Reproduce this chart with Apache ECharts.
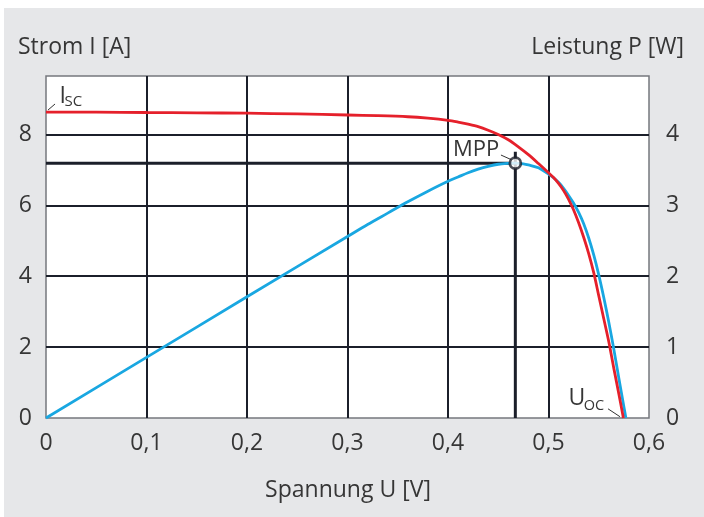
<!DOCTYPE html>
<html>
<head>
<meta charset="utf-8">
<script src="https://cdn.jsdelivr.net/npm/echarts@6/dist/echarts.min.js"></script>
<style>
  html, body { margin: 0; padding: 0; background: #ffffff; }
  #panel { position: absolute; left: 4px; top: 8px; width: 700px; height: 509px; background: #e6e7e9; }
  #chart { position: absolute; left: 0; top: 0; width: 704px; height: 517px; }
</style>
</head>
<body>
<div id="panel"></div>
<div id="chart"></div>
<script>
// I-U characteristic of the solar cell: voltage [V] and current [A]
const voltageI = [0, 0.05, 0.1, 0.15, 0.2, 0.25, 0.3, 0.33, 0.36, 0.38, 0.4, 0.41, 0.42, 0.43, 0.44, 0.45, 0.46, 0.47, 0.48, 0.49, 0.5,
                  0.505, 0.51, 0.515, 0.52, 0.525, 0.53, 0.535, 0.54, 0.545, 0.55, 0.555, 0.56, 0.565, 0.57, 0.5745];
const current  = [8.63, 8.63, 8.62, 8.61, 8.60, 8.58, 8.55, 8.53, 8.50, 8.46, 8.40, 8.35, 8.29, 8.22, 8.12, 8.00, 7.85, 7.65, 7.43, 7.18, 6.92,
                  6.785, 6.62, 6.42, 6.17, 5.87, 5.51, 5.10, 4.64, 4.10, 3.45, 2.80, 2.15, 1.40, 0.68, 0];

// P-U characteristic: voltage [V] and power [W]
const voltageP = [0, 0.1, 0.2, 0.3, 0.32, 0.34, 0.36, 0.38, 0.4, 0.41, 0.42, 0.43, 0.44, 0.45, 0.46, 0.467, 0.475, 0.48, 0.49, 0.5,
                  0.505, 0.51, 0.515, 0.52, 0.525, 0.53, 0.535, 0.54, 0.545, 0.55, 0.555, 0.56, 0.565, 0.57, 0.575, 0.577];
const power    = [0, 0.855, 1.71, 2.56, 2.73, 2.89, 3.05, 3.20, 3.34, 3.40, 3.46, 3.51, 3.55, 3.58, 3.592, 3.595, 3.585, 3.57, 3.53, 3.44,
                  3.39, 3.325, 3.24, 3.14, 3.03, 2.90, 2.74, 2.54, 2.30, 2.02, 1.70, 1.35, 0.97, 0.56, 0.16, 0];

// Maximum power point
const mppVoltage = 0.467;
const mppPower = 3.595;
const mppMarkTop = 3.755;

// Tick labels
const voltageTicks = ['0', '0,1', '0,2', '0,3', '0,4', '0,5', '0,6'];
const currentTicks = ['0', '2', '4', '6', '8'];
const powerTicks   = ['0', '1', '2', '3', '4'];

const FONT = '"Open Sans", "Noto Sans", sans-serif';
const TEXT = '#363636';
const GRID = '#1b1f2a';
const RED = '#e5202b';
const BLUE = '#19a7e1';

const currentMax = 9.65;
const powerMax = currentMax / 2;

const zip = (xs, ys) => xs.map((x, i) => [x, ys[i]]);

// Annotation anchors in (voltage, current) units
const notes = {
  iscArrow: [[0.0090, 8.86], [0.0020, 8.69]],
  mppArrow: [[0.4527, 7.42], [0.4637, 7.28]],
  uocArrow: [[0.5592, 0.26], [0.5711, 0.037]],
  iscMain: [0.0134, 9.06],
  iscSub:  [0.0185, 8.93],
  mppText: [0.405, 7.56],
  uocMain: [0.5200, 0.545],
  uocSub:  [0.5350, 0.333]
};

const chart = echarts.init(document.getElementById('chart'), null, { renderer: 'canvas' });

const arrowLine = (pair) => [{ coord: pair[0] }, { coord: pair[1] }];

chart.setOption({
  animation: false,
  backgroundColor: 'transparent',
  grid: {
    left: 46, right: 55, top: 76, bottom: 99,
    show: true, backgroundColor: '#ffffff',
    borderColor: '#75787e', borderWidth: 1.5
  },
  xAxis: {
    type: 'value', min: 0, max: 0.6, interval: 0.1,
    axisLine: { show: false }, axisTick: { show: false },
    axisLabel: {
      margin: 14, color: TEXT, fontFamily: FONT, fontSize: 23,
      formatter: v => voltageTicks[Math.round(v / 0.1)]
    },
    splitLine: { show: true, showMinLine: false, showMaxLine: false, lineStyle: { color: GRID, width: 2 } }
  },
  yAxis: [
    {
      type: 'value', min: 0, max: currentMax, interval: 2,
      axisLine: { show: false }, axisTick: { show: false },
      axisLabel: {
        margin: 14, color: TEXT, fontFamily: FONT, fontSize: 23, showMaxLabel: false,
        formatter: v => (Math.abs(v / 2 - Math.round(v / 2)) < 1e-6 ? currentTicks[Math.round(v / 2)] : '')
      },
      splitLine: { show: true, showMinLine: false, showMaxLine: false, lineStyle: { color: GRID, width: 2 } }
    },
    {
      type: 'value', min: 0, max: powerMax, interval: 1, position: 'right',
      axisLine: { show: false }, axisTick: { show: false },
      axisLabel: {
        margin: 17, color: TEXT, fontFamily: FONT, fontSize: 23, showMaxLabel: false,
        formatter: v => (Math.abs(v - Math.round(v)) < 1e-6 ? powerTicks[Math.round(v)] : '')
      },
      splitLine: { show: false }
    }
  ],
  series: [
    {
      name: 'MPP horizontal', type: 'line', yAxisIndex: 1, z: 2,
      data: [[0, mppPower], [mppVoltage, mppPower]],
      symbol: 'none', lineStyle: { color: GRID, width: 3 }, silent: true
    },
    {
      name: 'MPP vertical', type: 'line', yAxisIndex: 1, z: 2,
      data: [[mppVoltage, 0], [mppVoltage, mppMarkTop]],
      symbol: 'none', lineStyle: { color: GRID, width: 3 }, silent: true
    },
    {
      name: 'Leistung', type: 'line', yAxisIndex: 1, z: 3,
      data: zip(voltageP, power), smooth: 0.3,
      symbol: 'none', lineStyle: { color: BLUE, width: 2.8 }
    },
    {
      name: 'Strom', type: 'line', yAxisIndex: 0, z: 4,
      data: zip(voltageI, current), smooth: 0.3,
      symbol: 'none', lineStyle: { color: RED, width: 2.8 },
      markLine: {
        silent: true, symbol: ['none', 'arrow'], symbolSize: [0, 6],
        label: { show: false },
        lineStyle: { color: '#333333', width: 1, type: 'solid' },
        data: [arrowLine(notes.iscArrow), arrowLine(notes.mppArrow), arrowLine(notes.uocArrow)]
      }
    },
    {
      name: 'MPP', type: 'scatter', yAxisIndex: 1, z: 10,
      data: [[mppVoltage, mppPower]], symbol: 'circle', symbolSize: 11,
      itemStyle: { color: '#ffffff', borderColor: GRID, borderWidth: 2.8 }
    }
  ]
});

// Axis titles and point labels
const px = (p) => chart.convertToPixel({ xAxisIndex: 0, yAxisIndex: 0 }, p);
const txt = (pos, text, size, align, vAlign) => ({
  type: 'text', x: pos[0], y: pos[1], z: 20,
  style: {
    text: text, fill: TEXT, font: size + 'px ' + FONT,
    align: align, textAlign: align, verticalAlign: vAlign, textVerticalAlign: vAlign
  }
});

chart.setOption({
  graphic: [
    txt([18, 47], 'Strom I [A]', 23, 'left', 'middle'),
    txt([684, 47], 'Leistung P [W]', 23, 'right', 'middle'),
    txt([348, 490], 'Spannung U [V]', 23, 'center', 'middle'),
    txt(px(notes.iscMain), 'I', 23, 'left', 'middle'),
    txt(px(notes.iscSub), 'SC', 15, 'left', 'middle'),
    txt(px(notes.mppText), 'MPP', 22, 'left', 'middle'),
    txt(px(notes.uocMain), 'U', 23, 'left', 'middle'),
    txt(px(notes.uocSub), 'OC', 14.5, 'left', 'middle')
  ]
});
</script>
</body>
</html>
